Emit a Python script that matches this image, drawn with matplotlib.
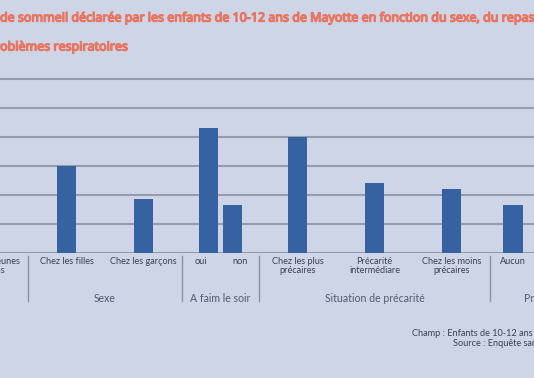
import numpy as np
import matplotlib
matplotlib.use("Agg")
import matplotlib.pyplot as plt
from matplotlib import patheffects
from matplotlib.lines import Line2D
from matplotlib.transforms import blended_transform_factory

# ---- data ----
groups = ["", "Sexe", "A faim le soir", "Situation de précarité", "Problèmes respiratoires"]
categories = [
    ["Ensemble des jeunes\nde 10-12 ans"],
    ["Chez les filles", "Chez les garçons"],
    ["oui", "non"],
    ["Chez les plus\nprécaires", "Précarité\nintermédiare", "Chez les moins\nprécaires"],
    ["Aucun"],
]
values = [
    [np.nan],
    [30.0, 18.5],
    [43.0, 16.5],
    [40.0, 24.0, 22.0],
    [16.5],
]
title_lines = [
    ("Durée ", "de sommeil déclarée par les enfants de 10-12 ans de Mayotte en fonction du sexe, du repas",
     " du soir, de la précarité et des"),
    ("pr", "oblèmes respiratoires", ""),
]
footer = ["Champ : Enfants de 10-12 ans scolarisés", "Source : Enquête santé"]

# ---- layout ----
W, H = 534, 378
group_slots = [1.28, 2, 1, 3, 2.3]   # width of each group on the category axis
cat_width = [1.28, 1, 0.5, 1, 0.6]   # width given to each category inside its group
packed = {2}                         # groups whose bars sit side by side
bar_w, bar_gap = 0.25, 0.06
px_per_slot, x0_px = 77, 28          # Sexe group starts at 28 px
base_px, px_per_unit = 252.7, 2.9
ymax = 61

BG = "#cdd5e7"
GRID = "#959cab"
BAR = "#3762a1"
TXT = "#3d4250"
GTXT = "#515a70"
TITLE = "#e97560"
label_font = ["Lato", "DejaVu Sans"]
tkw = dict(family=["Noto Sans", "DejaVu Sans"])
bold_fx = [patheffects.withStroke(linewidth=0.9, foreground=TITLE)]


def fy(py):
    return 1 - py / H


fig = plt.figure(figsize=(W / 100, H / 100), dpi=100, facecolor=BG)
ax_h = ymax * px_per_unit
ax = fig.add_axes([0, fy(base_px), 1, ax_h / H])
ax.set_facecolor(BG)
ax.set_xlim(-x0_px / px_per_slot, (W - x0_px) / px_per_slot)
ax.set_ylim(0, ymax)
ax.set_yticks(np.arange(0, 61, 10))
ax.set_xticks([])
ax.tick_params(left=False, labelleft=False)
for s in ax.spines.values():
    s.set_visible(False)
ax.grid(axis="y", color=GRID, lw=1.5)
ax.set_axisbelow(True)

tr = blended_transform_factory(ax.transData, fig.transFigure)

start = -group_slots[0]
bounds = [start]
for g, (gname, cats, vals) in enumerate(zip(groups, categories, values)):
    gcen = start + group_slots[g] / 2
    n = len(cats)
    for i, (c, v) in enumerate(zip(cats, vals)):
        cx = start + (i + 0.5) * cat_width[g]
        if g in packed:
            bx = gcen + (i - (n - 1) / 2) * (bar_w + bar_gap)
        else:
            bx = cx
        if not np.isnan(v):
            ax.bar(bx, v, width=bar_w, color=BAR, zorder=3)
        fig.text(cx, fy(256.5), c, transform=tr, ha="center", va="top",
                 fontsize=6.6, color=TXT, family=label_font, linespacing=1.05)
    if gname:
        fig.text(gcen, fy(298), gname, transform=tr, ha="center", va="center",
                 fontsize=7.6, color=GTXT, family=label_font)
    start += group_slots[g]
    bounds.append(start)

for b in bounds:
    fig.add_artist(Line2D([b, b], [fy(256), fy(301)], transform=tr,
                          color="#8c929e", lw=1.0))

# ---- title, fitted so the visible part spans the width ----
renderer = fig.canvas.get_renderer()


def text_width(s, size):
    t = fig.text(0, 0, s, fontsize=size, **tkw)
    w = t.get_window_extent(renderer).width
    t.remove()
    return w


tsize = 10.0
for _ in range(3):
    tsize *= (W - 3) / text_width(title_lines[0][1], tsize)

for (pre, mid, post), py in zip(title_lines, [18, 47]):
    full = pre + mid + post
    off = text_width(full, tsize) - text_width(mid + post, tsize)
    fig.text(-off / W, fy(py), full, fontsize=tsize, color=TITLE, ha="left",
             va="center", path_effects=bold_fx, **tkw)

# ---- footer ----
fig.text(411.7 / W, fy(334), footer[0], fontsize=6.6, color=TXT, family=label_font,
         ha="left", va="center")
fig.text(452.7 / W, fy(344), footer[1], fontsize=6.6, color=TXT, family=label_font,
         ha="left", va="center")

fig.savefig("out.png", dpi=100, facecolor=BG)
